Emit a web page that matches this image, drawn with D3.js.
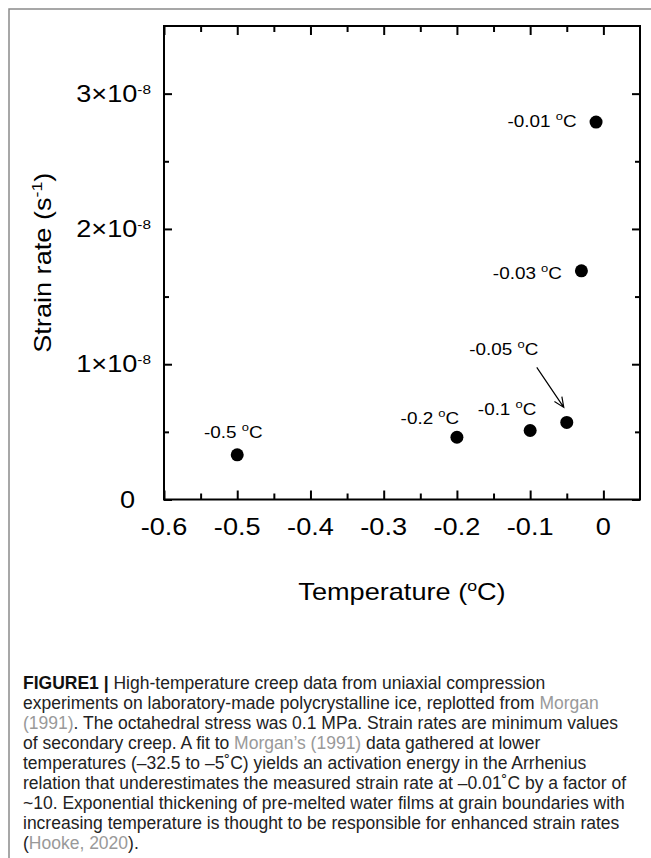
<!DOCTYPE html>
<html lang="en">
<head>
<meta charset="UTF-8">
<title>Strain rate vs temperature</title>
<script src="https://cdn.jsdelivr.net/npm/d3@7"></script>
<style>
  body{margin:0;background:#fff;}
  svg{display:block;font-family:"Liberation Sans", Arial, sans-serif;}
  .caption{font-size:17.5px;fill:#222;}
  .link{fill:#999;}
  .axis path{display:none;}
  .axis line{stroke:#000;stroke-width:2;}
</style>
</head>
<body>
<svg width="651" height="858"></svg>
<script>
// data
const temps = [-0.5, -0.2, -0.1, -0.05, -0.03, -0.01];
const rates = [3.3e-9, 4.6e-9, 5.1e-9, 5.7e-9, 1.69e-8, 2.79e-8];
const pointLabels = ["-0.5", "-0.2", "-0.1", "-0.05", "-0.03", "-0.01"];

const xTicks = [-0.6, -0.5, -0.4, -0.3, -0.2, -0.1, 0];
const xTickLabels = ["-0.6", "-0.5", "-0.4", "-0.3", "-0.2", "-0.1", "0"];
const xMinor = [-0.55, -0.45, -0.35, -0.25, -0.15, -0.05];
const yTicks = [0, 1e-8, 2e-8, 3e-8];
const yTickLabels = ["0", "1", "2", "3"];
const yMinor = [0.5e-8, 1.5e-8, 2.5e-8];

const captionLines = [
  [["FIGURE1 | ", "b"], ["High-temperature creep data from uniaxial compression", ""]],
  [["experiments on laboratory-made polycrystalline ice, replotted from ", ""], ["Morgan", "l"]],
  [["(1991)", "l"], [". The octahedral stress was 0.1 MPa. Strain rates are minimum values", ""]],
  [["of secondary creep. A fit to ", ""], ["Morgan\u2019s (1991)", "l"], [" data gathered at lower", ""]],
  [["temperatures (\u201332.5 to \u20135\u02daC) yields an activation energy in the Arrhenius", ""]],
  [["relation that underestimates the measured strain rate at \u20130.01\u02daC by a factor of", ""]],
  [["~10. Exponential thickening of pre-melted water films at grain boundaries with", ""]],
  [["increasing temperature is thought to be responsible for enhanced strain rates", ""]],
  [["(", ""], ["Hooke, 2020", "l"], [").", ""]]
];

// label placement relative to each point
const labelDx = [-4, -27, -23, -63, -54, -54];
const labelDy = [-17, -13, -16, -67, 8, 5];

const svg = d3.select("svg");
const SX = 1.18; // horizontal stretch of the chart lettering

const pL = 164, pR = 640, pT = 26, pB = 499.5;
const x = d3.scaleLinear().domain([-0.6, 0.05]).range([pL, pR]);
const y = d3.scaleLinear().domain([0, 3.5e-8]).range([pB, pT]);

// outer gray frame (open at right/bottom)
svg.append("path")
  .attr("d", "M9,858 V9 H651")
  .attr("fill", "none").attr("stroke", "#8a8a8a").attr("stroke-width", 1.5);

// ticks, all pointing inward
function ticks(axisFn, scale, vals, size, tr) {
  svg.append("g").attr("class", "axis").attr("transform", tr)
    .call(axisFn(scale).tickValues(vals).tickSize(size).tickFormat(""));
}
ticks(d3.axisBottom, x, xTicks, -9, `translate(0,${pB})`);
ticks(d3.axisBottom, x, xMinor, -6, `translate(0,${pB})`);
ticks(d3.axisTop, x, xTicks, -9, `translate(0,${pT})`);
ticks(d3.axisTop, x, xMinor, -6, `translate(0,${pT})`);
ticks(d3.axisLeft, y, yTicks, -8, `translate(${pL},0)`);
ticks(d3.axisLeft, y, yMinor, -5, `translate(${pL},0)`);
ticks(d3.axisRight, y, yTicks, -8, `translate(${pR},0)`);
ticks(d3.axisRight, y, yMinor, -5, `translate(${pR},0)`);

svg.append("rect")
  .attr("x", pL).attr("y", pT)
  .attr("width", pR - pL).attr("height", pB - pT)
  .attr("fill", "none").attr("stroke", "#000").attr("stroke-width", 2);

function stretched(px, py, anchor, size) {
  return svg.append("g")
    .attr("transform", `translate(${px},${py}) scale(${SX},1)`)
    .append("text")
    .attr("text-anchor", anchor)
    .attr("font-size", size)
    .attr("fill", "#000");
}

// x tick labels
xTicks.forEach((v, i) => {
  stretched(x(v), 535, "middle", 23).text(xTickLabels[i]);
});

// y tick labels
yTicks.forEach((v, i) => {
  if (v === 0) {
    stretched(135, y(v) + 8, "end", 23).text("0");
    return;
  }
  const t = stretched(151, y(v) + 8, "end", 23);
  t.append("tspan").text(yTickLabels[i] + "\u00d710");
  t.append("tspan").attr("font-size", 13).attr("dy", -8).text("-8");
});

// axis titles
const xt = stretched((pL + pR) / 2, 600, "middle", 23);
xt.append("tspan").text("Temperature (");
xt.append("tspan").attr("font-size", 15).attr("dy", -9).text("o");
xt.append("tspan").attr("dy", 9).text("C)");

const yt = svg.append("g")
  .attr("transform", `translate(51,${(pT + pB) / 2}) rotate(-90) scale(${SX},1)`)
  .append("text").attr("text-anchor", "middle").attr("font-size", 23);
yt.append("tspan").text("Strain rate (s");
yt.append("tspan").attr("font-size", 15).attr("dy", -9).text("-1");
yt.append("tspan").attr("dy", 9).text(")");

// points
svg.append("g").selectAll("circle")
  .data(temps)
  .join("circle")
  .attr("cx", d => x(d))
  .attr("cy", (d, i) => y(rates[i]))
  .attr("r", 6.5)
  .attr("fill", "#000");

// point labels
temps.forEach((d, i) => {
  const t = stretched(x(d) + labelDx[i], y(rates[i]) + labelDy[i], "middle", 16);
  t.append("tspan").text(pointLabels[i] + " ");
  t.append("tspan").attr("font-size", 11).attr("dy", -7).text("o");
  t.append("tspan").attr("dy", 7).text("C");
});

// arrow to the -0.05 point
const ax = x(-0.05), ay = y(rates[3]);
const x1 = ax - 30, y1 = ay - 55, x2 = ax - 3, y2 = ay - 15;
const ang = Math.atan2(y2 - y1, x2 - x1);
const head = 11, spread = 0.42;
svg.append("path")
  .attr("d", `M${x1},${y1} L${x2},${y2}` +
    ` M${x2 - head * Math.cos(ang - spread)},${y2 - head * Math.sin(ang - spread)} L${x2},${y2}` +
    ` L${x2 - head * Math.cos(ang + spread)},${y2 - head * Math.sin(ang + spread)}`)
  .attr("fill", "none").attr("stroke", "#000").attr("stroke-width", 1.2);

// caption
const capX = 23, capY = 689, capLH = 20, capW = 606;
captionLines.forEach((parts, i) => {
  const t = svg.append("text").attr("class", "caption")
    .attr("x", capX).attr("y", capY + i * capLH);
  parts.forEach(([s, k]) => {
    const sp = t.append("tspan").text(s);
    if (k === "b") sp.attr("font-weight", "bold").attr("fill", "#111");
    if (k === "l") sp.attr("class", "link");
  });
  const w = t.node().getComputedTextLength();
  if (w > capW) t.attr("textLength", capW).attr("lengthAdjust", "spacingAndGlyphs");
});
</script>
</body>
</html>
